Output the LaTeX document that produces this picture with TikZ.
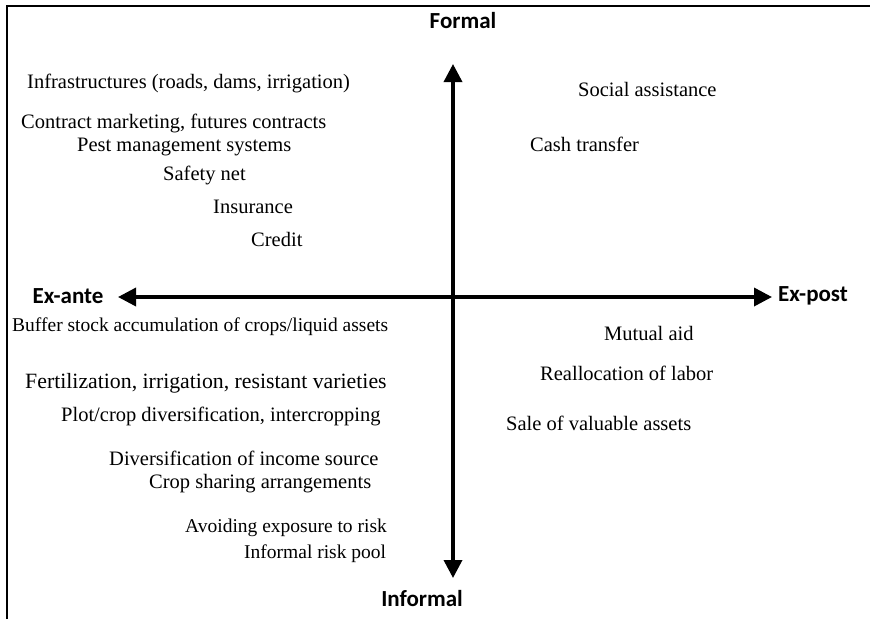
\documentclass[tikz,border=0pt]{standalone}
\usepackage{fontspec}
\setmainfont{Liberation Serif}
\newfontfamily\axisfont{Carlito}
\usetikzlibrary{arrows.meta}

\begin{document}
\begin{tikzpicture}[x=1pt, y=-1pt,
    item/.style={anchor=base west, inner sep=0pt, font=\fontsize{20.5}{23}\selectfont},
    smallitem/.style={item, font=\fontsize{19.5}{22}\selectfont},
    bigitem/.style={item, font=\fontsize{21.8}{24}\selectfont},
    axislabel/.style={inner sep=0pt, font=\axisfont\bfseries\fontsize{23}{26}\selectfont},
    axis/.style={line width=3.5pt, {Triangle[width=18pt,length=18pt]}-{Triangle[width=18pt,length=18pt]}}]
    \useasboundingbox (0,0) rectangle (870,619);
    % frame
    \draw[line width=2.5pt] (7,619) -- (7,6) -- (870,6);

    % axes
    \node[axislabel] (formal) at (463,21) {Formal};
    \node[axislabel, anchor=east] (informal) at (463,599) {Informal};
    \node[axislabel] (exante) at (68,296) {Ex-ante};
    \node[axislabel] (expost) at (813,296) {Ex-post};
    \coordinate (top) at (453,64);
    \coordinate (bottom) at (453,578);
    \coordinate (left) at (118,297);
    \coordinate (right) at (772,297);
    \draw[axis] (bottom) -- (top);
    \draw[axis] (left) -- (right);

    % formal, ex-ante
    \node[item] (infra) at (27,88) {Infrastructures (roads, dams, irrigation)};
    \node[item] (contract) at (21,128) {Contract marketing, futures contracts};
    \node[item] (pest) at (77,151) {Pest management systems};
    \node[item] (safety) at (163,180) {Safety net};
    \node[item] (insur) at (213,213) {Insurance};
    \node[item] (credit) at (251,246) {Credit};

    % formal, ex-post
    \node[item] (social) at (578,96) {Social assistance};
    \node[item] (cash) at (530,151) {Cash transfer};

    % informal, ex-ante
    \node[smallitem] (buffer) at (12,331) {Buffer stock accumulation of crops/liquid assets};
    \node[bigitem] (fert) at (25,388) {Fertilization, irrigation, resistant varieties};
    \node[item] (plot) at (61,421) {Plot/crop diversification, intercropping};
    \node[item] (divers) at (109,465) {Diversification of income source};
    \node[item] (crop) at (149,488) {Crop sharing arrangements};
    \node[smallitem] (avoid) at (185,532) {Avoiding exposure to risk};
    \node[smallitem] (pool) at (244,558) {Informal risk pool};

    % informal, ex-post
    \node[item] (mutual) at (604,340) {Mutual aid};
    \node[item] (realloc) at (540,380) {Reallocation of labor};
    \node[item] (sale) at (506,430) {Sale of valuable assets};
\end{tikzpicture}
\end{document}
